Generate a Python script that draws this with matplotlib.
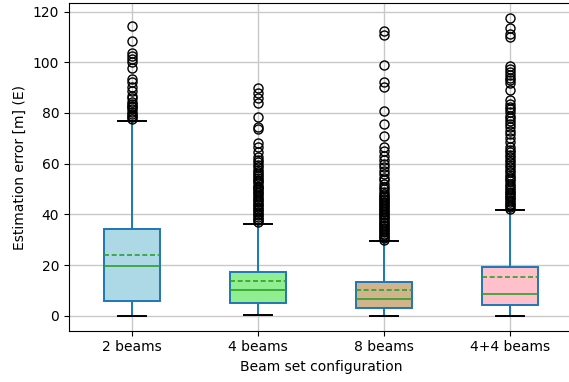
import matplotlib
matplotlib.use("Agg")
import matplotlib.pyplot as plt

# Beam set configurations and box statistics
labels = ["2 beams", "4 beams", "8 beams", "4+4 beams"]
q1 = [5.8, 4.9, 2.9, 4.1]
med = [19.7, 10.0, 6.7, 8.5]
q3 = [34.1, 17.3, 13.4, 19.2]
mean = [23.8, 13.7, 10.0, 15.3]
whislo = [0.0, 0.3, 0.0, 0.0]
whishi = [76.7, 36.3, 29.7, 41.6]
box_colors = ["lightblue", "lightgreen", "tan", "pink"]

fliers_2 = [77.7, 78.3, 79.0, 79.8, 80.5, 81.6, 82.2, 82.9, 83.6, 84.5, 86.0,
            86.8, 88.8, 90.4, 92.3, 93.4, 97.6, 100.0, 101.2, 102.6, 103.6,
            108.5, 114.4]
fliers_4 = [37.0, 37.6, 38.3, 39.0, 39.6, 40.3, 41.0, 41.6, 42.3, 43.0, 43.6,
            44.3, 45.0, 45.5, 46.2, 47.0, 47.5, 48.3, 49.0, 49.5, 50.3, 51.0,
            51.4, 52.3, 53.0, 53.4, 54.3, 55.3, 56.0, 56.6, 57.5, 58.6, 59.5,
            60.6, 61.5, 62.5, 64.5, 66.5, 68.0, 73.8, 74.6, 78.4, 84.0, 86.0,
            87.7, 89.8]
fliers_8 = [30.0, 30.6, 31.2, 31.8, 32.4, 33.0, 33.6, 34.2, 34.8, 35.4, 36.0,
            36.6, 37.2, 37.8, 38.4, 39.0, 39.6, 40.2, 40.8, 41.4, 42.0, 42.6,
            43.2, 43.8, 44.4, 45.0, 45.6, 46.2, 46.8, 47.4, 48.0, 48.8, 50.0,
            51.0, 52.0, 53.4, 54.5, 56.0, 57.0, 58.6, 60.0, 61.3, 63.2, 65.2,
            66.5, 70.8, 75.7, 80.9, 90.1, 92.1, 98.9, 110.6, 112.4]
fliers_44 = [42.3, 43.0, 43.6, 44.3, 45.0, 45.5, 46.3, 47.0, 47.5, 48.3, 49.0,
             49.5, 50.5, 51.3, 52.1, 53.0, 54.0, 54.7, 55.6, 56.6, 57.5, 58.6,
             59.5, 60.6, 61.5, 62.5, 63.5, 64.5, 65.5, 66.5, 68.5, 70.0, 71.7,
             73.0, 74.6, 75.8, 77.0, 78.0, 79.0, 80.3, 81.6, 82.5, 83.6, 85.1,
             89.1, 91.7, 93.0, 94.0, 95.0, 96.0, 97.3, 98.6, 109.8, 111.1,
             113.4, 117.4]
fliers = [fliers_2, fliers_4, fliers_8, fliers_44]

stats = []
for i in range(len(labels)):
    stats.append(dict(label=labels[i], q1=q1[i], med=med[i], q3=q3[i],
                      mean=mean[i], whislo=whislo[i], whishi=whishi[i],
                      fliers=fliers[i]))

fig = plt.figure(figsize=(5.69, 3.82), dpi=100)
ax = fig.add_axes([69 / 569, 51.3 / 382, 504 / 569, 327.4 / 382])

bp = ax.bxp(stats, showmeans=True, meanline=True, patch_artist=True,
            widths=0.45,
            boxprops=dict(edgecolor="C0", linewidth=1.4),
            whiskerprops=dict(color="C0", linewidth=1.4),
            capprops=dict(color="black", linewidth=1.4),
            medianprops=dict(color="C2", linewidth=1.2),
            meanprops=dict(color="C2", linestyle=(0, (3.0, 1.6)), linewidth=1.2),
            flierprops=dict(marker="o", markerfacecolor="none",
                            markeredgecolor="black", markersize=6.5))
for patch, c in zip(bp["boxes"], box_colors):
    patch.set_facecolor(c)

ax.grid(True, color="#c8c8c8", linewidth=1.0)
ax.set_axisbelow(True)
ax.set_xlabel("Beam set configuration")
ax.set_ylabel("Estimation error [m] (E)")

fig.savefig("out.png", dpi=100)
